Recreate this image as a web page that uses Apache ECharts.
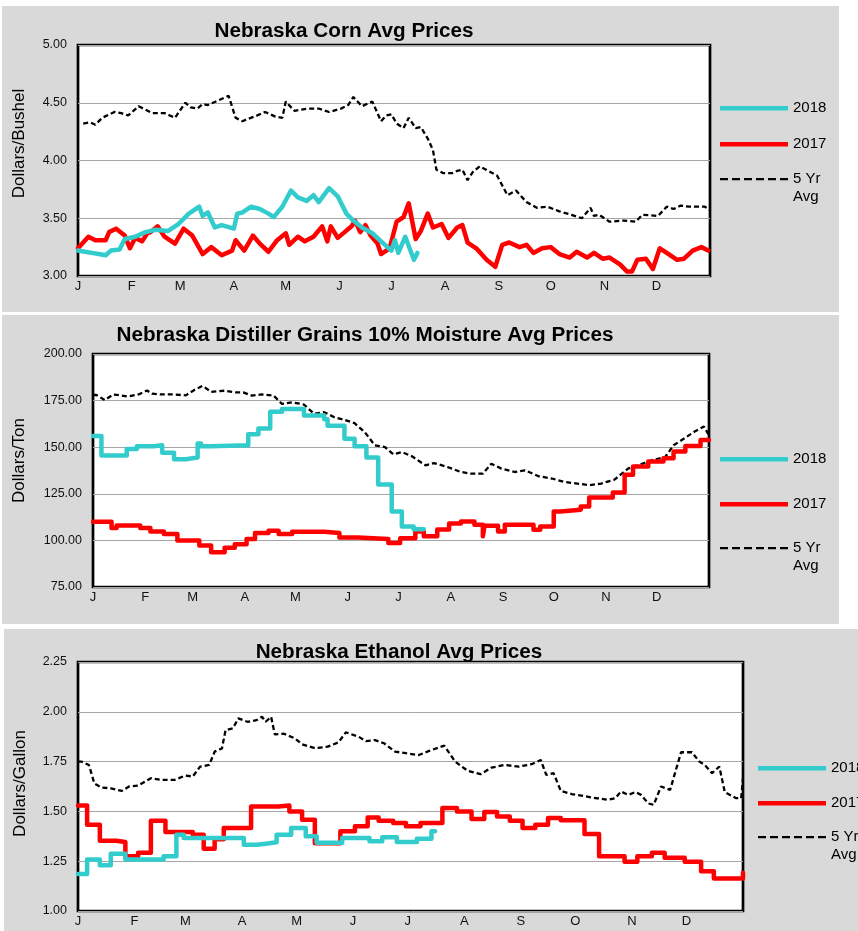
<!DOCTYPE html>
<html>
<head>
<meta charset="utf-8">
<script src="https://cdn.jsdelivr.net/npm/echarts@6/dist/echarts.min.js"></script>
<style>
  body { margin: 0; background: #fff; }
  .wrap { position: relative; width: 858px; height: 931px; overflow: hidden; }
  .panel { position: absolute; background: #d9d9d9; }
  #chart { position: absolute; left: 0; top: 0; width: 858px; height: 931px; }
</style>
</head>
<body>
<div class="wrap">
  <div class="panel" style="left:2px;top:6px;width:837px;height:306px"></div>
  <div class="panel" style="left:2px;top:315px;width:837px;height:309px"></div>
  <div class="panel" style="left:4px;top:629px;width:860px;height:310px"></div>
  <div id="chart"></div>
</div>
<script>
// x axis = day of year, labels at the first day of each month
const monthStarts = [0, 31, 59, 90, 120, 151, 181, 212, 243, 273, 304, 334];
const monthLabels = ['J', 'F', 'M', 'A', 'M', 'J', 'J', 'A', 'S', 'O', 'N', 'D'];

// corn, dollars/bushel  [day, price]
const cornAvg = [[3,4.32],[7,4.33],[10,4.31],[14,4.37],[21,4.42],[25,4.41],[29,4.39],[35,4.47],[39,4.44],[43,4.41],[50,4.41],[53,4.39],[56,4.37],[62,4.50],[65,4.46],[69,4.45],[72,4.49],[75,4.48],[81,4.52],[87,4.56],[91,4.37],[95,4.34],[98,4.36],[102,4.38],[108,4.42],[114,4.38],[118,4.37],[120,4.51],[125,4.43],[129,4.44],[133,4.45],[139,4.45],[145,4.42],[152,4.45],[156,4.48],[159,4.55],[164,4.47],[170,4.51],[175,4.34],[178,4.39],[181,4.40],[184,4.32],[188,4.28],[191,4.37],[195,4.28],[198,4.29],[202,4.19],[205,4.09],[207,3.92],[211,3.89],[216,3.89],[219,3.91],[222,3.92],[225,3.83],[228,3.90],[232,3.95],[237,3.91],[242,3.87],[248,3.70],[253,3.74],[259,3.64],[265,3.59],[271,3.60],[278,3.56],[285,3.53],[291,3.50],[296,3.59],[298,3.52],[301,3.53],[307,3.47],[315,3.48],[322,3.47],[326,3.53],[335,3.52],[340,3.60],[344,3.58],[348,3.61],[353,3.60],[362,3.60],[365,3.57]];
const corn2018 = [[0,3.22],[4,3.21],[8,3.20],[12,3.19],[16,3.18],[19,3.22],[24,3.23],[27,3.32],[33,3.34],[39,3.38],[45,3.40],[52,3.39],[58,3.45],[64,3.54],[70,3.60],[72,3.52],[75,3.55],[79,3.42],[83,3.44],[90,3.41],[92,3.54],[95,3.55],[100,3.60],[105,3.58],[110,3.54],[113,3.51],[118,3.60],[123,3.74],[127,3.68],[132,3.65],[136,3.70],[139,3.64],[145,3.76],[150,3.69],[155,3.54],[159,3.48],[164,3.42],[170,3.37],[175,3.30],[181,3.22],[183,3.31],[185,3.20],[189,3.34],[194,3.14],[196,3.20]];
const corn2017 = [[0,3.24],[6,3.34],[10,3.31],[16,3.31],[18,3.38],[22,3.41],[27,3.35],[30,3.24],[33,3.33],[37,3.30],[40,3.37],[42,3.38],[46,3.43],[50,3.34],[56,3.28],[61,3.41],[66,3.35],[72,3.19],[77,3.25],[83,3.18],[89,3.22],[91,3.31],[96,3.22],[101,3.35],[105,3.28],[110,3.21],[115,3.31],[120,3.37],[122,3.27],[127,3.34],[131,3.30],[136,3.34],[141,3.43],[144,3.30],[146,3.43],[150,3.33],[154,3.38],[158,3.43],[160,3.48],[163,3.38],[166,3.44],[169,3.35],[173,3.28],[175,3.19],[180,3.24],[184,3.47],[188,3.51],[191,3.63],[195,3.32],[198,3.39],[202,3.54],[205,3.42],[210,3.45],[214,3.33],[219,3.42],[222,3.44],[225,3.29],[230,3.24],[236,3.14],[241,3.08],[245,3.27],[249,3.29],[255,3.25],[259,3.27],[263,3.20],[268,3.24],[273,3.25],[278,3.19],[284,3.16],[288,3.21],[294,3.16],[298,3.20],[303,3.15],[307,3.16],[313,3.10],[317,3.04],[320,3.04],[323,3.14],[328,3.15],[332,3.06],[336,3.24],[340,3.20],[346,3.14],[350,3.15],[355,3.22],[360,3.25],[364,3.22]];

// distiller grains, dollars/ton  [day, price]
const dgAvg = [[0,178.0],[2,178.0],[7,175.3],[12,178.3],[21,177.2],[27,178.3],[32,180.4],[35,178.7],[40,178.3],[48,178.3],[55,177.8],[60,180.7],[65,182.9],[70,179.7],[78,180.3],[84,179.4],[89,179.4],[94,177.7],[100,178.3],[107,177.7],[112,173.2],[118,174.1],[125,172.9],[131,167.9],[137,168.8],[143,166.1],[149,164.7],[155,162.9],[161,158.1],[167,151.0],[173,150.1],[178,146.2],[183,147.4],[189,145.1],[197,140.3],[202,141.5],[210,139.4],[218,136.7],[224,135.8],[231,135.8],[236,141.1],[242,138.5],[250,136.7],[256,137.6],[264,134.4],[272,133.2],[279,131.4],[287,130.5],[294,129.6],[301,130.5],[309,132.6],[317,138.5],[323,140.3],[331,143.0],[339,144.7],[344,151.0],[350,154.5],[356,158.1],[362,161.1],[365,156.3]];
const dg2018 = [[0,156.0],[5,145.5],[20,149.0],[26,150.5],[36,151.0],[41,147.0],[48,143.5],[55,144.5],[62,152.0],[64,150.5],[70,151.0],[92,157.0],[98,160.0],[105,169.0],[112,170.5],[125,167.0],[137,165.0],[139,161.5],[149,154.5],[155,150.5],[162,144.5],[169,130.0],[177,115.5],[183,107.5],[190,106.0],[196,106.0]];
const dg2017 = [[0,110.0],[11,106.6],[14,108.0],[28,106.6],[34,104.8],[42,103.4],[50,100.0],[63,97.2],[70,93.6],[78,96.0],[84,98.0],[91,100.8],[96,104.0],[104,105.2],[110,103.4],[118,104.6],[137,104.0],[146,101.6],[157,100.8],[175,98.6],[182,101.2],[191,104.8],[196,102.2],[204,105.8],[211,109.0],[218,110.1],[226,108.4],[231,102.2],[232,107.9],[240,104.8],[244,108.4],[261,105.7],[265,107.5],[273,115.5],[277,116.4],[289,118.2],[294,123.0],[308,125.7],[315,135.2],[320,139.6],[329,142.3],[338,144.1],[344,147.7],[351,150.7],[360,153.9],[365,153.9]];

// ethanol, dollars/gallon  [day, price]
const ethAvg = [[0,1.75],[2,1.75],[6,1.733],[9,1.64],[13,1.62],[18,1.616],[24,1.603],[28,1.625],[33,1.63],[40,1.667],[46,1.658],[53,1.658],[59,1.68],[63,1.675],[67,1.725],[72,1.733],[75,1.80],[79,1.816],[81,1.908],[85,1.917],[88,1.967],[93,1.95],[98,1.958],[101,1.975],[103,1.95],[106,1.975],[108,1.887],[113,1.89],[119,1.867],[123,1.837],[130,1.817],[137,1.825],[143,1.847],[147,1.897],[154,1.875],[158,1.853],[163,1.858],[168,1.842],[174,1.80],[180,1.792],[187,1.783],[194,1.808],[201,1.83],[207,1.75],[214,1.703],[221,1.687],[227,1.72],[234,1.733],[242,1.725],[249,1.737],[254,1.758],[257,1.683],[261,1.692],[265,1.603],[271,1.587],[282,1.57],[291,1.558],[295,1.567],[298,1.60],[302,1.583],[306,1.597],[309,1.583],[313,1.54],[316,1.533],[320,1.625],[325,1.608],[331,1.797],[337,1.797],[341,1.75],[344,1.733],[348,1.692],[352,1.725],[355,1.597],[361,1.567],[364,1.567],[365,1.666]];
const eth2018 = [[0,1.186],[5,1.258],[12,1.23],[18,1.287],[26,1.258],[47,1.275],[54,1.383],[58,1.367],[91,1.333],[98,1.338],[103,1.345],[109,1.383],[117,1.417],[125,1.375],[131,1.342],[145,1.367],[160,1.35],[167,1.37],[175,1.346],[186,1.363],[194,1.40],[196,1.40]];
const eth2017 = [[0,1.53],[5,1.433],[12,1.353],[21,1.346],[26,1.275],[33,1.292],[40,1.453],[48,1.397],[63,1.383],[69,1.313],[75,1.36],[80,1.417],[95,1.525],[110,1.53],[116,1.50],[123,1.458],[130,1.34],[144,1.40],[152,1.425],[159,1.47],[165,1.453],[173,1.442],[180,1.425],[188,1.442],[200,1.517],[208,1.50],[216,1.462],[223,1.497],[230,1.475],[237,1.453],[244,1.417],[251,1.433],[258,1.467],[265,1.455],[278,1.387],[286,1.275],[300,1.247],[307,1.275],[315,1.292],[322,1.267],[333,1.247],[342,1.20],[349,1.163],[363,1.163],[365,1.192]];

const FONT = 'Liberation Sans, Arial, sans-serif';
const CYAN = '#33cccc';
const RED = '#ff0000';

// legend icons: a thick bar, and a row of dashes (extra moveTo points fix the box to 68x18)
const SOLID_ICON = 'path://M0,0M68,18M0,7h68v4.5h-68z';
let dashPath = 'path://M0,0M68,18';
for (let x = 0; x < 68; x += 12) dashPath += 'M' + x + ',8h' + Math.min(8, 68 - x) + 'v2.2h-' + Math.min(8, 68 - x) + 'z';
const DASH_ICON = dashPath;

function xAxisFor(gridIndex) {
    return {
        gridIndex, type: 'value', min: 0, max: 365,
        axisLine: { show: false },
        axisTick: { show: false },
        splitLine: { show: false },
        axisLabel: {
            customValues: monthStarts,
            formatter: v => monthLabels[monthStarts.indexOf(v)] || '',
            color: '#111', fontFamily: FONT, fontSize: 13, margin: 4
        }
    };
}

function yAxisFor(gridIndex, name, min, max, interval, gap, pad) {
    return {
        gridIndex, type: 'value', min, max, interval,
        name, nameLocation: 'middle', nameGap: gap,
        nameTextStyle: { color: '#000', fontFamily: FONT, fontSize: 17, padding: pad },
        axisLine: { show: false },
        axisTick: { show: false },
        splitLine: { lineStyle: { color: '#a6a6a6', width: 1 } },
        axisLabel: {
            formatter: v => v.toFixed(2),
            color: '#111', fontFamily: FONT, fontSize: 12.5, margin: 11
        }
    };
}

function lineSeries(name, idx, data, color, step, dashed) {
    return {
        name, type: 'line', xAxisIndex: idx, yAxisIndex: idx,
        data, symbol: 'none', step: step ? 'end' : false,
        lineStyle: dashed
            ? { color: '#000', width: 2.3, type: [5, 3] }
            : { color, width: 4.5, cap: 'round', join: 'round' },
        itemStyle: { color: dashed ? '#000' : color },
        z: dashed ? 3 : (name === '2017' ? 4 : 5)
    };
}

const legendText = { color: '#000', fontFamily: FONT, fontSize: 15 };

// the two year entries
function yearLegend(left, top, gap) {
    return {
        orient: 'vertical', left, top, itemGap: gap, padding: 0,
        itemWidth: 68, itemHeight: 18, itemTextGap: 10,
        data: [{ name: '2018', icon: SOLID_ICON }, { name: '2017', icon: SOLID_ICON }],
        textStyle: legendText
    };
}

// the two-line "5 Yr / Avg" entry, first line level with the dashes
function avgLegend(left, top) {
    return {
        orient: 'vertical', left, top, padding: 0,
        itemWidth: 68, itemHeight: 18, itemTextGap: 10,
        data: [{ name: '5 Yr Avg', icon: DASH_ICON }],
        formatter: () => '{a|5 Yr}\n{a|Avg}',
        textStyle: Object.assign({}, legendText, {
            padding: [18, 0, 0, 0],
            rich: { a: { color: '#000', fontFamily: FONT, fontSize: 15, lineHeight: 18 } }
        })
    };
}

const titleStyle = { color: '#000', fontFamily: FONT, fontSize: 20.7, fontWeight: 'bold' };

const chart = echarts.init(document.getElementById('chart'));
const option = {
    animation: false,
    backgroundColor: 'transparent',
    title: [
        { text: 'Nebraska Corn Avg Prices', left: 339, top: 16, textAlign: 'center', textStyle: titleStyle },
        { text: 'Nebraska Distiller Grains 10% Moisture Avg Prices', left: 360, top: 320, textAlign: 'center', textStyle: titleStyle },
        { text: 'Nebraska Ethanol Avg Prices', left: 394, top: 637, textAlign: 'center', textStyle: titleStyle }
    ],
    grid: [
        { left: 78, top: 45, width: 632, height: 231, show: true, backgroundColor: '#fff', borderColor: '#000', borderWidth: 2.7 },
        { left: 93, top: 354, width: 616, height: 233, show: true, backgroundColor: '#fff', borderColor: '#000', borderWidth: 2.7 },
        { left: 78, top: 662, width: 665, height: 249, show: true, backgroundColor: '#fff', borderColor: '#000', borderWidth: 2.7 }
    ],
    xAxis: [xAxisFor(0), xAxisFor(1), xAxisFor(2)],
    yAxis: [
        yAxisFor(0, 'Dollars/Bushel', 3, 5, 0.5, 50, [0, 0, 0, 34]),
        yAxisFor(1, 'Dollars/Ton', 75, 200, 25, 65, [0, 0, 0, 20]),
        yAxisFor(2, 'Dollars/Gallon', 1, 2.25, 0.25, 49, [0, 0, 0, 6])
    ],
    legend: [
        yearLegend(720, 99, 18),
        avgLegend(720, 170),
        yearLegend(720, 450, 27),
        avgLegend(720, 539),
        yearLegend(758, 759, 17),
        avgLegend(758, 828)
    ],
    series: [
        lineSeries('5 Yr Avg', 0, cornAvg, '#000', false, true),
        lineSeries('2017', 0, corn2017, RED, false, false),
        lineSeries('2018', 0, corn2018, CYAN, false, false),
        lineSeries('5 Yr Avg', 1, dgAvg, '#000', false, true),
        lineSeries('2017', 1, dg2017, RED, true, false),
        lineSeries('2018', 1, dg2018, CYAN, true, false),
        lineSeries('5 Yr Avg', 2, ethAvg, '#000', false, true),
        lineSeries('2017', 2, eth2017, RED, true, false),
        lineSeries('2018', 2, eth2018, CYAN, true, false)
    ]
};
chart.setOption(option);
</script>
</body>
</html>
